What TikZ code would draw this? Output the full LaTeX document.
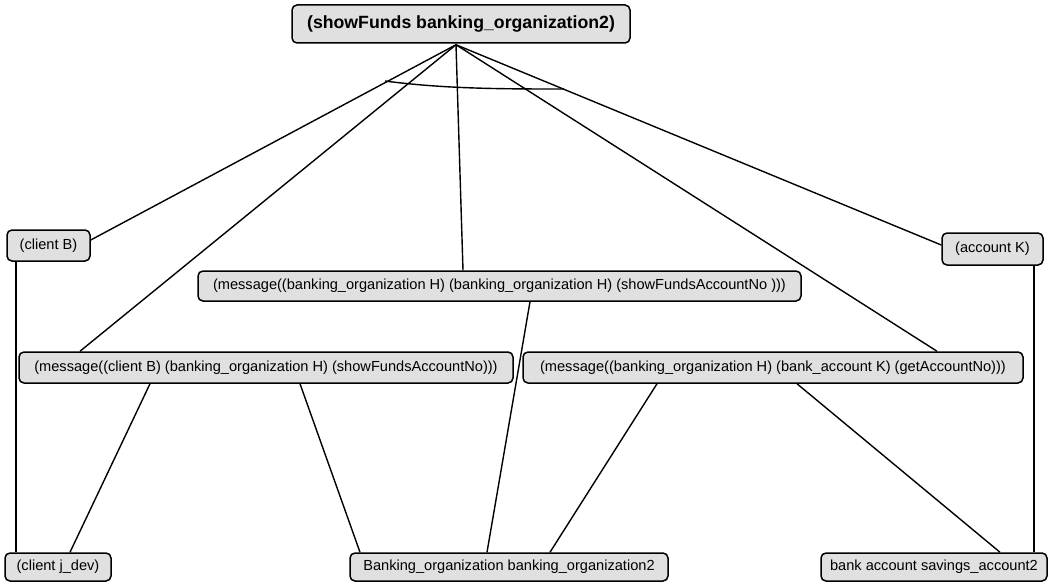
\documentclass[tikz,border=0pt]{standalone}
\usepackage{fontspec}
\setmainfont{Liberation Sans}
\definecolor{boxfill}{HTML}{E0E0E0}
\begin{document}
\begin{tikzpicture}[x=1pt,y=-1pt,
  box/.style={draw=black,line width=1.5pt,fill=boxfill,rounded corners=5pt,
    inner sep=0pt,font=\fontsize{14.6}{17}\selectfont},
  headbox/.style={box,font=\fontsize{17.7}{20}\selectfont\bfseries},
  link/.style={line width=1.4pt,black}]
\useasboundingbox (0,0) rectangle (1058,583);

% nodes
\node[headbox,minimum width=338pt,minimum height=38pt] (goal) at (461,24) {(showFunds banking\_organization2)};
\node[box,minimum width=83pt,minimum height=31pt] (clientB) at (48.5,245.5) {(client B)};
\node[box,minimum width=101pt,minimum height=32pt] (accountK) at (992.5,249) {(account K)};
\node[box,minimum width=603pt,minimum height=30pt] (msgOrg) at (499.5,286) {(message((banking\_organization H) (banking\_organization H) (showFundsAccountNo )))};
\node[box,minimum width=494pt,minimum height=31pt] (msgClient) at (266,367.5) {(message((client B) (banking\_organization H) (showFundsAccountNo)))};
\node[box,minimum width=500pt,minimum height=31pt] (msgBank) at (773,367.5) {(message((banking\_organization H) (bank\_account K) (getAccountNo)))};
\node[box,minimum width=106pt,minimum height=28pt] (jdev) at (58,567) {(client j\_dev)};
\node[box,minimum width=318pt,minimum height=28pt] (org) at (509,567) {Banking\_organization banking\_organization2};
\node[box,minimum width=226pt,minimum height=28pt] (savings) at (934,567) {bank account savings\_account2};

% decomposition links from the goal
\coordinate (hub) at ([xshift=-5pt,yshift=-1pt]goal.south);
\draw[link] (hub) -- ([yshift=5.5pt]clientB.east);
\draw[link] (hub) -- ([xshift=-186pt]msgClient.north);
\draw[link] (hub) -- ([xshift=-36.5pt]msgOrg.north);
\draw[link] (hub) -- ([xshift=164pt]msgBank.north);
\draw[link] (hub) -- ([yshift=4pt]accountK.west);

% arc joining the goal's links
\coordinate (arcA) at (385,81);
\coordinate (arcB) at (564,89);
\draw[link] (arcA) .. controls (445,89) and (505,89) .. (arcB);

% lower links
\draw[link] ([xshift=-32.5pt]clientB.south) -- ([xshift=-42pt]jdev.north);
\draw[link] ([xshift=-116pt]msgClient.south) -- ([xshift=12pt]jdev.north);
\draw[link] ([xshift=34pt]msgClient.south) -- ([xshift=-149pt]org.north);
\draw[link] ([xshift=30.5pt]msgOrg.south) -- ([xshift=-22pt]org.north);
\draw[link] ([xshift=-116pt]msgBank.south) -- ([xshift=41pt]org.north);
\draw[link] ([xshift=24pt]msgBank.south) -- ([xshift=66pt]savings.north);
\draw[link] ([xshift=41.5pt]accountK.south) -- ([xshift=100pt]savings.north);
\end{tikzpicture}
\end{document}
